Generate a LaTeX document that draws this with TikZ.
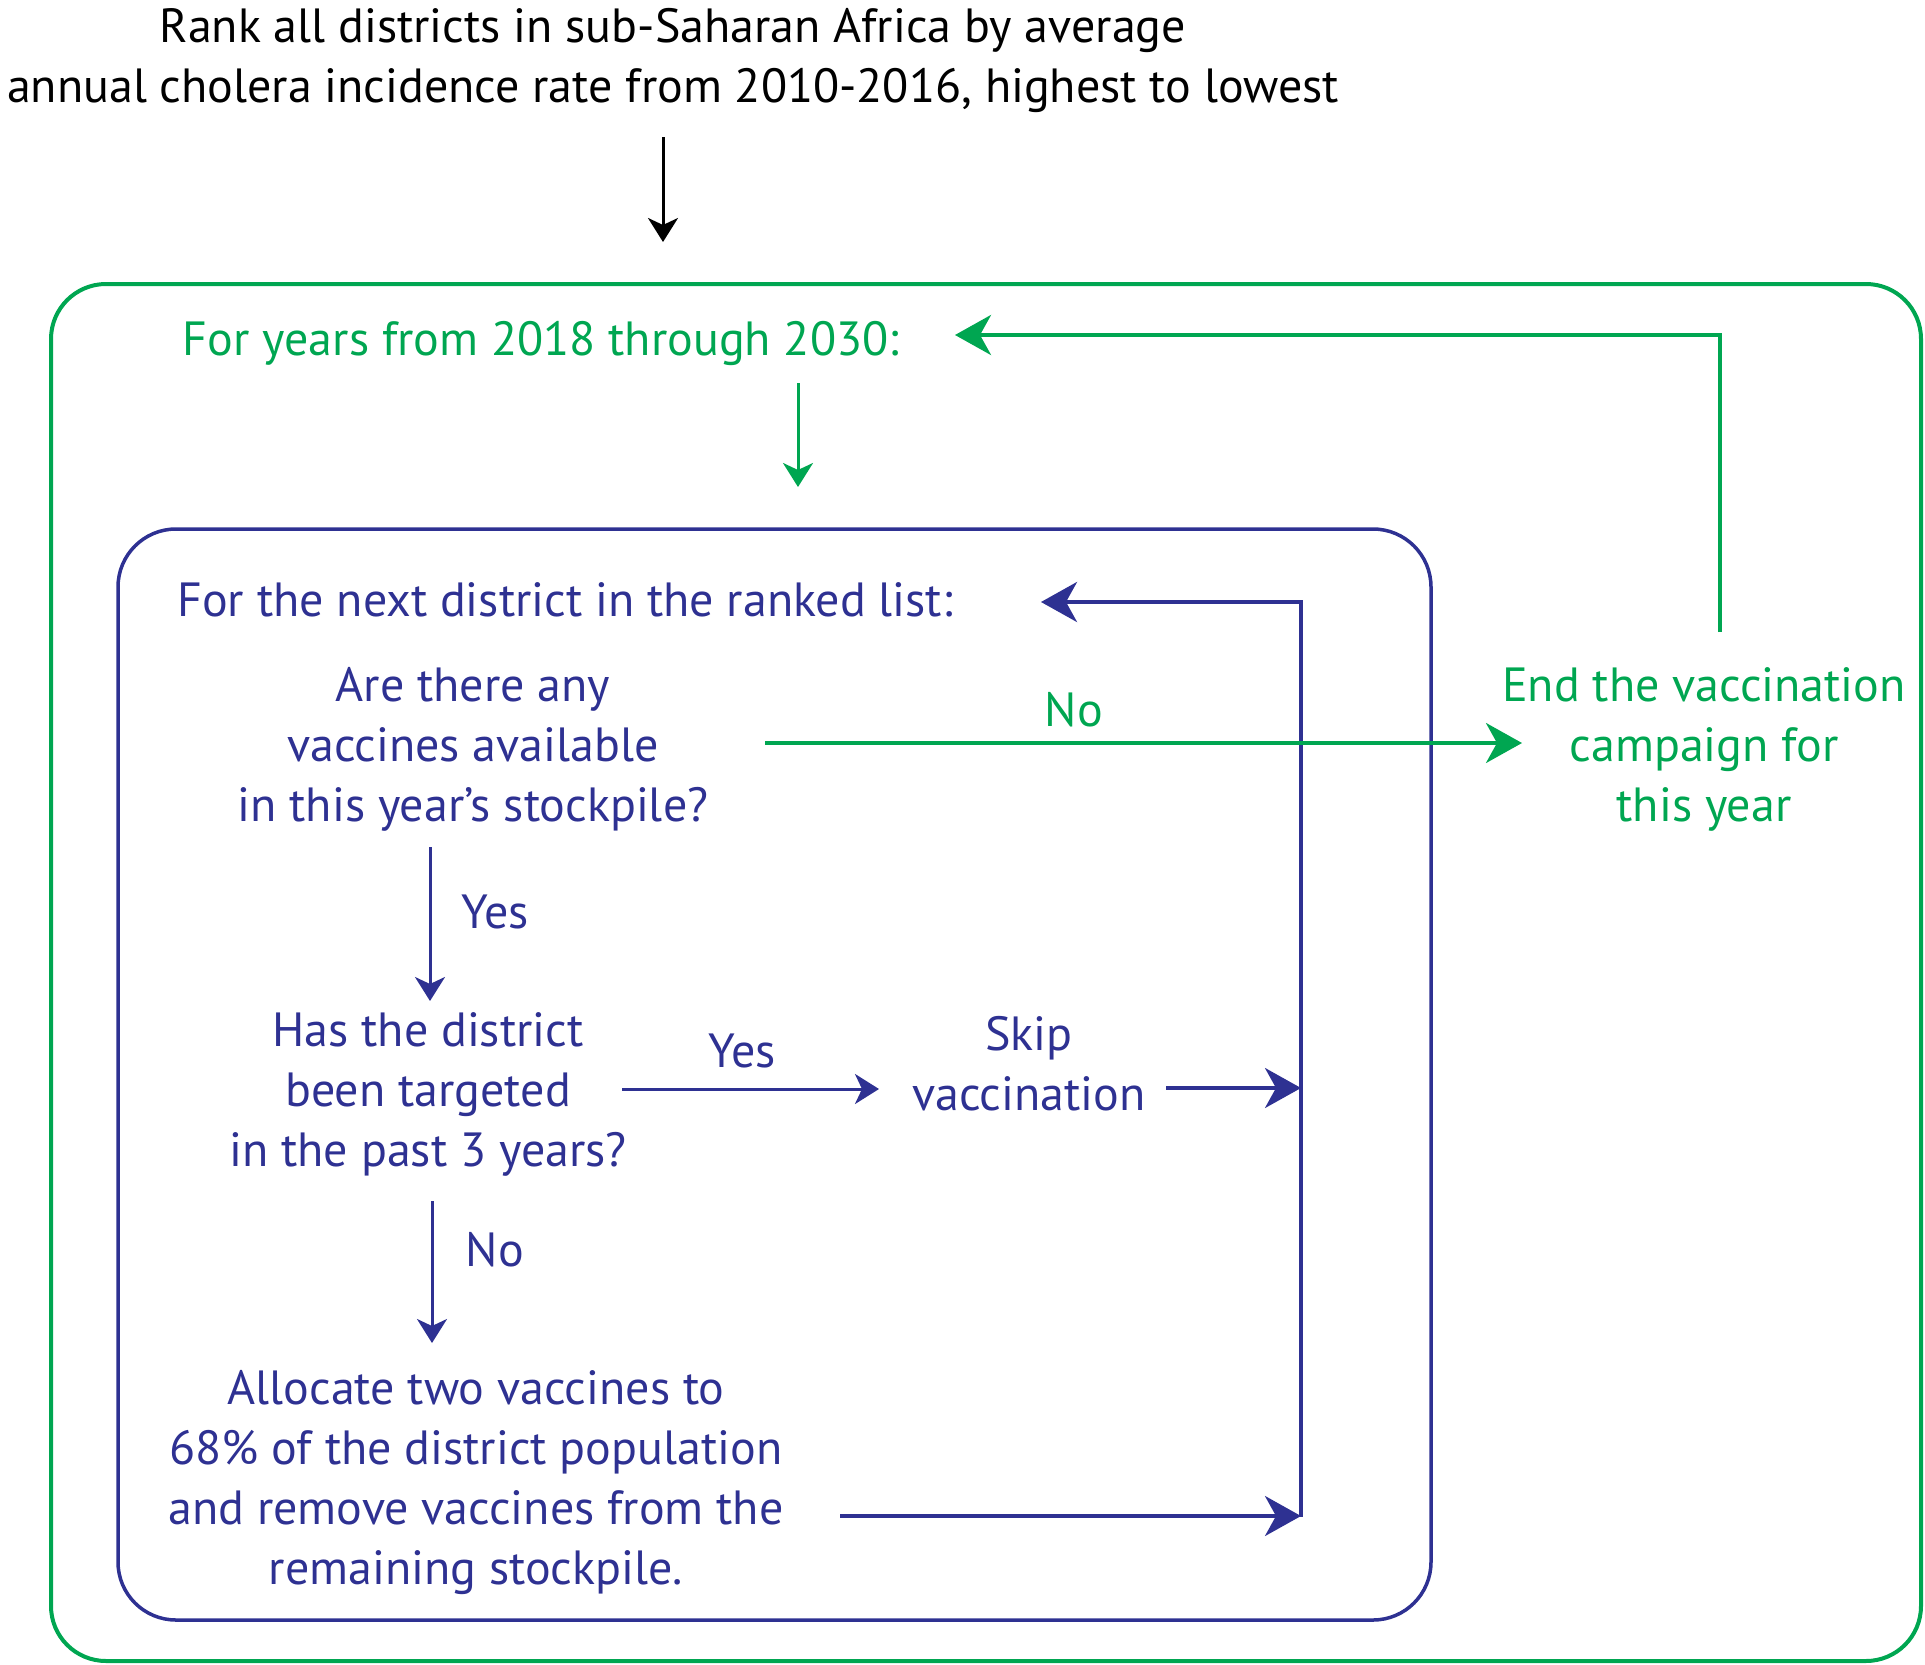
\documentclass[tikz,border=0pt]{standalone}
\usepackage{fontspec}
\setmainfont{PT Sans}
\usetikzlibrary{arrows.meta}
\definecolor{cgreen}{HTML}{00A651}
\definecolor{cblue}{HTML}{2E3192}
\begin{document}
\begin{tikzpicture}[x=1pt,y=-1pt,
  txt/.style={align=center,font=\fontsize{48}{60}\selectfont,inner sep=0pt},
  frame/.style={draw,line width=4pt,inner sep=0pt},
  small/.style={line width=3pt,-{Stealth[length=24pt,width=30pt,inset=7pt]}},
  large/.style={line width=4pt,-{Stealth[length=36pt,width=40pt,inset=11pt]}},
  ]
\useasboundingbox (0,0) rectangle (1925,1665);

% frames
\node[frame,cgreen,rounded corners=55pt,minimum width=1870pt,minimum height=1377pt] (outer) at (986,972.5) {};
\node[frame,cblue,line width=3.5pt,rounded corners=58pt,minimum width=1313pt,minimum height=1091pt] (inner) at (774.5,1074.5) {};

% texts
\node[txt] (title) at (673,60) {Rank all districts in sub-Saharan Africa by average\\annual cholera incidence rate from 2010-2016, highest to lowest};
\node[txt,text=cgreen] (years) at (541,343) {For years from 2018 through 2030:};
\node[txt,text=cblue] (next) at (565,600) {For the next district in the ranked list:};
\node[txt,text=cblue] (q1) at (473,749) {Are there any\\vaccines available\\in this year’s stockpile?};
\node[txt,text=cgreen] (endc) at (1704,749) {End the vaccination\\campaign for\\this year};
\node[txt,text=cblue] (q2) at (428,1094) {Has the district\\been targeted\\in the past 3 years?};
\node[txt,text=cblue] (skip) at (1029,1064) {Skip\\vaccination};
\node[txt,text=cblue] (alloc) at (476,1483) {Allocate two vaccines to\\68\% of the district population\\and remove vaccines from the\\remaining stockpile.};

% branch labels
\node[txt,text=cgreen] (lno) at (1074,710) {No};
\node[txt,text=cblue] (lyes1) at (495,912) {Yes};
\node[txt,text=cblue] (lyes2) at (742,1051) {Yes};
\node[txt,text=cblue] (lno2) at (495,1250) {No};

% connector ends
\coordinate (t0) at (663,137);  \coordinate (t1) at (663,242);
\coordinate (y0) at (798,383);  \coordinate (y1) at (798,487);
\coordinate (r0) at (1720,632); \coordinate (r1) at (1720,335); \coordinate (r2) at (955,335);
\coordinate (n0) at (1301,1517); \coordinate (n1) at (1301,602); \coordinate (n2) at (1041,602);
\coordinate (v0) at (765,743);  \coordinate (v1) at (1522,743);
\coordinate (a0) at (430,847);  \coordinate (a1) at (430,1001);
\coordinate (b0) at (622,1089); \coordinate (b1) at (879,1089);
\coordinate (s0) at (1166,1088); \coordinate (s1) at (1301,1088);
\coordinate (c0) at (432,1201); \coordinate (c1) at (432,1343);
\coordinate (d0) at (840,1516); \coordinate (d1) at (1301,1516);

% connectors
\draw[small,black] (t0) -- (t1);
\draw[small,cgreen] (y0) -- (y1);
\draw[large,cgreen] (r0) -- (r1) -- (r2);
\draw[large,cblue] (n0) -- (n1) -- (n2);
\draw[large,cgreen,line width=3.5pt] (v0) -- (v1);
\draw[small,cblue] (a0) -- (a1);
\draw[small,cblue] (b0) -- (b1);
\draw[large,cblue,line width=3.5pt] (s0) -- (s1);
\draw[small,cblue] (c0) -- (c1);
\draw[large,cblue,line width=3.5pt] (d0) -- (d1);
\end{tikzpicture}
\end{document}
